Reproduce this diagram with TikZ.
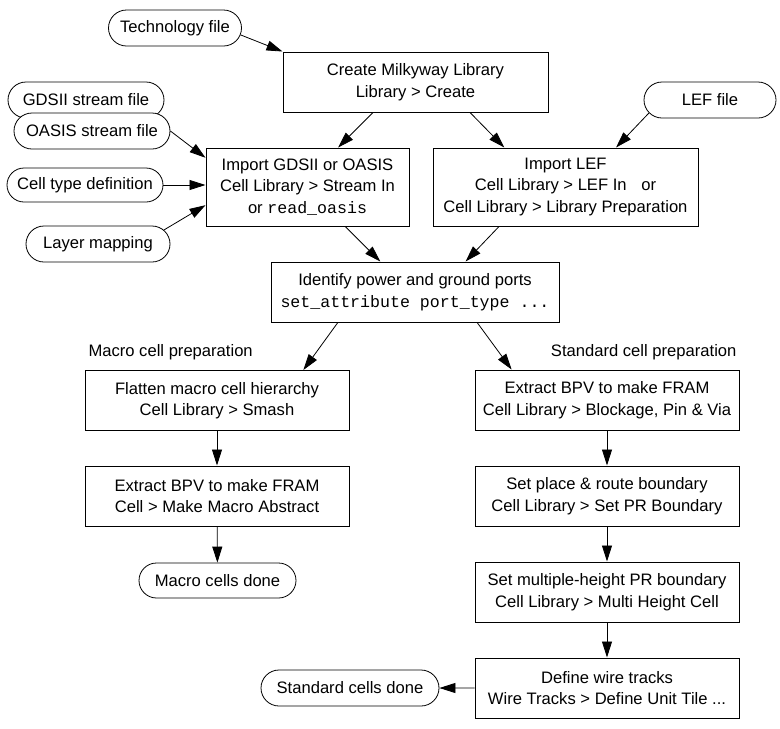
\documentclass[tikz,border=0pt]{standalone}
\usepackage{fontspec}
\setmainfont{Liberation Sans}
\setmonofont{Liberation Mono}
\usetikzlibrary{arrows.meta,shapes.misc,calc}
\begin{document}
\begin{tikzpicture}[x=1pt,y=-1pt,font=\fontsize{16.6}{21.5}\selectfont,
    box/.style={draw,line width=1pt,minimum width=264pt,minimum height=60pt,inner sep=0pt,align=center,fill=white},
    oval/.style={draw,line width=0.8pt,rounded rectangle,minimum height=36pt,inner sep=0pt,fill=white},
    arr/.style={-{Triangle[length=16pt,width=10pt]},line width=0.8pt}]
  \useasboundingbox (0,0) rectangle (780,729);

  % inputs
  \node[oval,minimum width=133pt] (tech) at (175,28) {Technology file};
  \node[oval,minimum width=156pt] (gds) at (86,100) {GDSII stream file};
  \node[oval,minimum width=156pt] (oasis) at (92,131) {OASIS stream file};
  \node[oval,minimum width=156pt,minimum height=34pt] (celltype) at (85,185) {Cell type definition};
  \node[oval,minimum width=144pt] (layer) at (98,244) {Layer mapping};
  \node[oval,minimum width=132pt] (lef) at (710,100) {LEF file};

  % library steps
  \node[box,minimum width=265pt] (create) at (415.5,82) {Create Milkyway Library\\Library > Create};
  \node[box,minimum width=203pt,minimum height=78pt] (impgds) at (307.5,187) {Import GDSII or OASIS\\Cell Library > Stream In\\or \texttt{read\_oasis}};
  \node[box,minimum width=265pt,minimum height=78pt] (implef) at (565.5,187) {Import LEF\\Cell Library > LEF In\hspace{10pt} or\\Cell Library > Library Preparation};
  \node[box,minimum width=288pt] (ident) at (415,292) {Identify power and ground ports\\\texttt{set\_attribute port\_type ...}};

  % macro cells
  \node[anchor=west] (maclbl) at (85,352) {Macro cell preparation};
  \node[box] (flatten) at (217,400.5) {Flatten macro cell hierarchy\\Cell Library > Smash};
  \node[box] (extmac) at (217,496) {Extract BPV to make FRAM\\Cell > Make Macro Abstract};
  \node[oval,minimum width=157pt,minimum height=35pt] (macdone) at (217.5,580.5) {Macro cells done};

  % standard cells
  \node[anchor=east] (stdlbl) at (740,352) {Standard cell preparation};
  \node[box] (extstd) at (607,400) {Extract BPV to make FRAM\\Cell Library > Blockage, Pin \& Via};
  \node[box] (prb) at (607,496) {Set place \& route boundary\\Cell Library > Set PR Boundary};
  \node[box] (mhb) at (607,592) {Set multiple-height PR boundary\\Cell Library > Multi Height Cell};
  \node[box] (wire) at (607,688) {Define wire tracks\\Wire Tracks > Define Unit Tile ...};
  \node[oval,minimum width=178pt] (stddone) at (350,688) {Standard cells done};

  % connectors
  \draw[arr] (tech.-6) -- (create.north west);
  \draw[arr] ($(create.south west)!.34!(create.south east)$) -- ($(impgds.north west)!.65!(impgds.north east)$);
  \draw[arr] ($(create.south west)!.705!(create.south east)$) -- ($(implef.north west)!.27!(implef.north east)$);
  \draw[arr] (lef.192) -- ($(implef.north west)!.69!(implef.north east)$);
  \draw[arr] (oasis.east) -- ($(impgds.north west)!.13!(impgds.south west)$);
  \draw[arr] (celltype.east) -- (celltype.east -| impgds.west);
  \draw[arr] (layer.12) -- ($(impgds.north west)!.73!(impgds.south west)$);
  \draw[arr] ($(impgds.south west)!.685!(impgds.south east)$) -- ($(ident.north west)!.38!(ident.north east)$);
  \draw[arr] ($(implef.south west)!.25!(implef.south east)$) -- ($(ident.north west)!.675!(ident.north east)$);
  \draw[arr] ($(ident.south west)!.233!(ident.south east)$) -- ($(flatten.north west)!.826!(flatten.north east)$);
  \draw[arr] ($(ident.south west)!.715!(ident.south east)$) -- ($(extstd.north west)!.14!(extstd.north east)$);
  \draw[arr] (flatten) -- (extmac);
  \draw[arr] (extmac) -- (macdone);
  \draw[arr] (extstd) -- (prb);
  \draw[arr] (prb) -- (mhb);
  \draw[arr] (mhb) -- (wire);
  \draw[arr] (wire) -- (stddone);
\end{tikzpicture}
\end{document}
